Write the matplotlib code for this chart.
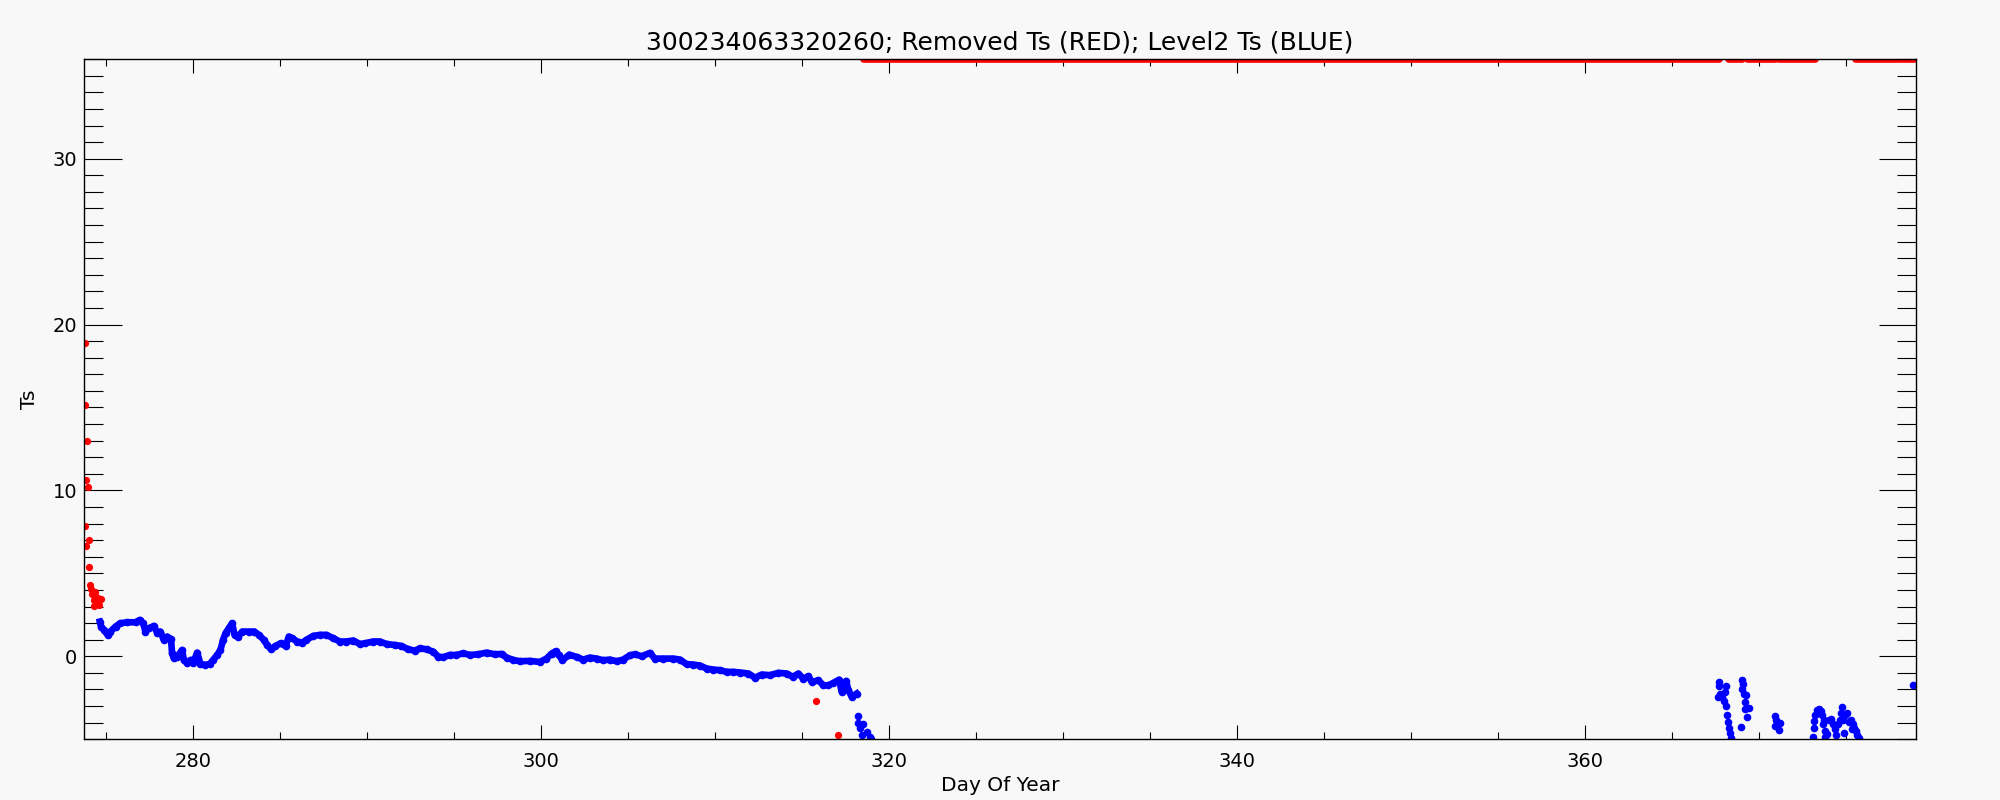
import matplotlib.pyplot as plt
from matplotlib.ticker import MultipleLocator

# Level2 Ts (blue), continuous stretch
blue_day = [274.66, 274.73, 274.89, 275.11, 275.27, 275.56, 275.84, 276.23, 276.71, 276.95,
            277.15, 277.28, 277.47, 277.76, 277.95, 278.14, 278.33, 278.53, 278.75, 278.81,
            278.91, 279.10, 279.39, 279.48, 279.68, 279.87, 280.02, 280.25, 280.44, 280.73,
            280.98, 281.17, 281.40, 281.59, 281.74, 281.88, 282.07, 282.26, 282.40, 282.59,
            282.84, 283.22, 283.54, 283.79, 284.08, 284.27, 284.50, 284.75, 285.04, 285.33,
            285.52, 285.71, 286.00, 286.29, 286.53, 286.92, 287.30, 287.68, 288.07, 288.45,
            288.83, 289.22, 289.60, 289.89, 290.36, 290.75, 291.13, 291.61, 291.99, 292.38,
            292.76, 293.05, 293.43, 293.81, 294.10, 294.39, 294.77, 295.15, 295.54, 295.92,
            296.40, 296.88, 297.36, 297.74, 298.03, 298.41, 298.79, 299.36, 299.94, 300.32,
            300.61, 300.84, 301.05, 301.24, 301.63, 302.05, 302.43, 302.81, 303.20, 303.58,
            303.96, 304.35, 304.73, 305.11, 305.40, 305.78, 306.26, 306.55, 307.03, 307.60,
            307.99, 308.37, 308.75, 309.14, 309.52, 309.90, 310.29, 310.67, 311.05, 311.44,
            311.92, 312.30, 312.69, 313.16, 313.64, 314.12, 314.47, 314.79, 315.08, 315.37,
            315.56, 315.94, 316.23, 316.52, 316.80, 317.13, 317.28, 317.53, 317.67, 317.86,
            318.14]
blue_ts = [2.09, 1.79, 1.59, 1.29, 1.49, 1.79, 1.99, 2.05, 2.05, 2.19,
           1.99, 1.49, 1.69, 1.83, 1.43, 1.49, 0.99, 1.19, 1.03, 0.18,
           -0.12, -0.02, 0.38, -0.22, -0.42, -0.22, -0.42, 0.22, -0.46, -0.52,
           -0.46, -0.22, 0.08, 0.38, 0.99, 1.39, 1.69, 1.99, 1.29, 1.19,
           1.49, 1.49, 1.49, 1.29, 0.99, 0.68, 0.42, 0.62, 0.78, 0.62,
           1.19, 1.09, 0.89, 0.82, 0.99, 1.23, 1.29, 1.29, 1.09, 0.89,
           0.89, 0.95, 0.74, 0.78, 0.89, 0.89, 0.74, 0.68, 0.62, 0.42,
           0.34, 0.48, 0.42, 0.28, -0.02, -0.06, 0.08, 0.08, 0.18, 0.08,
           0.12, 0.22, 0.12, 0.14, -0.08, -0.22, -0.30, -0.28, -0.34, -0.14,
           0.16, 0.30, 0.06, -0.24, 0.10, -0.04, -0.20, -0.08, -0.14, -0.24,
           -0.20, -0.30, -0.20, 0.06, 0.12, 0.00, 0.20, -0.14, -0.14, -0.14,
           -0.20, -0.48, -0.50, -0.56, -0.74, -0.80, -0.84, -0.94, -0.94, -0.98,
           -1.04, -1.29, -1.10, -1.14, -1.00, -1.04, -1.24, -1.04, -1.35, -1.20,
           -1.55, -1.45, -1.75, -1.75, -1.61, -1.41, -2.15, -1.49, -2.05, -2.45,
           -2.25]

# Level2 Ts (blue), scattered points
blue_pts_day = [318.20, 318.24, 318.34, 318.53, 318.43, 318.72, 318.91, 318.95,
                367.66, 367.70, 368.10, 368.05, 367.76, 367.61, 367.86, 367.95, 368.10, 368.14,
                368.20, 368.26, 368.30, 368.37,
                369.02, 369.04, 369.00, 369.10, 369.25, 369.20, 369.16, 369.39, 369.29, 368.95,
                370.92, 370.98, 371.21, 370.92, 371.11,
                373.09, 373.12, 373.16, 373.22, 373.31, 373.41, 373.54, 373.60, 373.70, 373.66,
                373.79, 373.76, 373.89, 373.99, 374.12, 374.23, 374.37, 374.43, 374.50, 374.62,
                374.69, 374.73, 374.81, 374.89, 374.94, 375.04, 375.14, 375.27, 375.38, 375.46,
                375.54, 375.61, 375.71, 375.33,
                378.85]
blue_pts_ts = [-3.61, -4.02, -4.30, -4.06, -4.76, -4.56, -4.86, -4.98,
               -1.55, -1.81, -1.81, -2.15, -2.29, -2.45, -2.45, -2.71, -3.01, -3.55,
               -3.96, -4.30, -4.62, -4.90,
               -1.45, -1.65, -1.95, -2.29, -2.35, -2.75, -3.15, -3.11, -3.65, -4.26,
               -3.61, -3.86, -4.02, -4.22, -4.42,
               -4.86, -4.30, -3.90, -3.55, -3.21, -3.15, -3.31, -3.55, -3.82, -4.10,
               -4.50, -4.86, -4.66, -3.82, -3.78, -4.06, -4.36, -4.76, -4.06, -3.82,
               -3.45, -3.05, -3.82, -4.62, -3.55, -3.41, -3.96, -3.86, -4.06, -4.30,
               -4.50, -4.76, -4.92, -4.36,
               -1.75]

# Removed Ts (red)
red_day = [273.79, 273.79, 273.92, 273.87, 273.97, 273.83, 274.03, 273.85, 274.03, 274.08,
           274.18, 274.22, 274.30, 274.35, 274.42, 274.50, 274.55, 274.62, 274.70, 274.40,
           315.81, 317.07]
red_ts = [18.87, 15.14, 12.97, 10.64, 10.22, 7.87, 6.99, 6.63, 5.38, 4.28,
          4.08, 3.75, 3.40, 3.05, 3.55, 3.20, 3.50, 3.10, 3.45, 3.85,
          -2.71, -4.76]

# Removed Ts sitting on the top of the plot range
red_top_start = [318.50, 368.20, 369.30, 371.10, 375.50]
red_top_end = [367.70, 369.00, 370.90, 373.20, 378.90]
y_top = 36

bg = '#f8f8f8'
fig, ax = plt.subplots(figsize=(20, 8), dpi=100)
fig.patch.set_facecolor(bg)
ax.set_facecolor(bg)
fig.subplots_adjust(left=0.042, right=0.958, bottom=0.076, top=0.926)

ax.plot(blue_day, blue_ts, '-o', color='#0000ff', lw=4.8, ms=5.5, mew=0)
ax.plot(blue_pts_day, blue_pts_ts, 'o', color='#0000ff', ms=5.5, mew=0)
ax.plot(red_day, red_ts, 'o', color='#ff0000', ms=5.2, mew=0)
ax.hlines([y_top] * len(red_top_start), red_top_start, red_top_end,
          colors='#ff0000', lw=4.8, capstyle='round')

ax.set_xlim(273.75, 379.0)
ax.set_ylim(-5, 36)
ax.xaxis.set_major_locator(MultipleLocator(20))
ax.xaxis.set_minor_locator(MultipleLocator(5))
ax.yaxis.set_major_locator(MultipleLocator(10))
ax.yaxis.set_minor_locator(MultipleLocator(1))

ax.tick_params(axis='x', which='major', direction='in', length=10, width=0.8,
               top=True, bottom=True, labelsize=14, pad=9)
ax.tick_params(axis='x', which='minor', direction='in', length=5, width=0.8,
               top=True, bottom=True)
ax.tick_params(axis='y', which='major', direction='in', length=27, width=0.8,
               left=True, right=True, labelsize=14, pad=5)
ax.tick_params(axis='y', which='minor', direction='in', length=13.5, width=0.8,
               left=True, right=True)
for s in ax.spines.values():
    s.set_linewidth(1.0)

ax.set_title('300234063320260; Removed Ts (RED); Level2 Ts (BLUE)', fontsize=18, pad=7)
ax.set_xlabel('Day Of Year', fontsize=14.5, labelpad=4)
ax.set_ylabel('Ts', fontsize=14.5, labelpad=10)

fig.savefig('out.png', dpi=100, facecolor=bg)
